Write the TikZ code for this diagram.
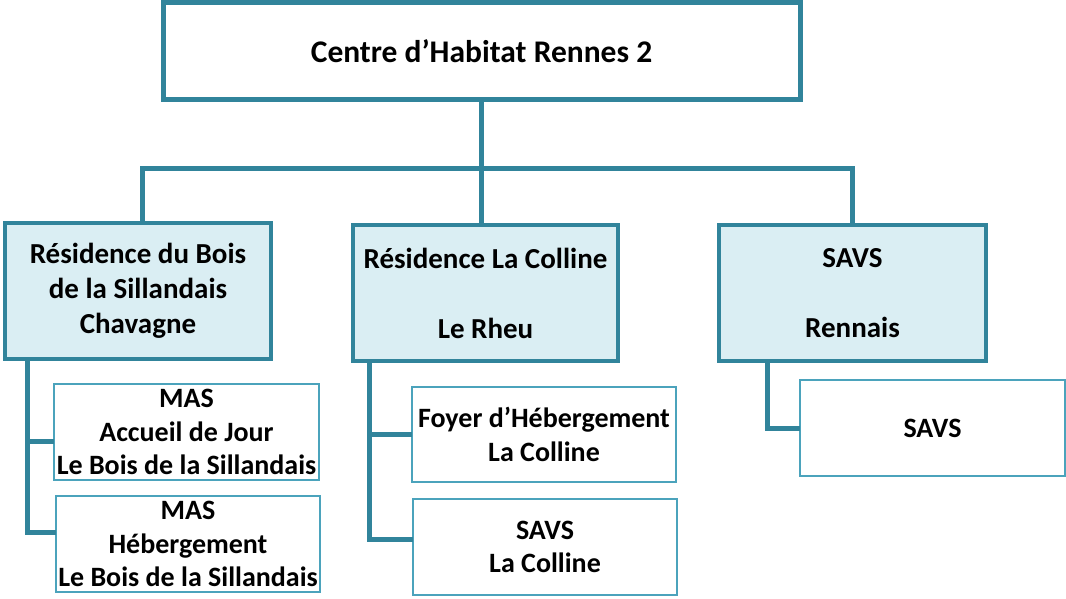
\documentclass[tikz,border=0pt]{standalone}
\usepackage{fontspec}
\setmainfont{Carlito}
\usetikzlibrary{calc}
\definecolor{teal}{HTML}{31849B}
\definecolor{lightfill}{HTML}{DAEEF3}
\definecolor{thinline}{HTML}{4BA3BC}
\begin{document}
\begin{tikzpicture}[x=1pt,y=-1pt,
  base/.style={rectangle,inner sep=0pt,outer sep=0pt,align=center},
  topbox/.style={base,draw=teal,line width=5pt,fill=white,font=\fontsize{31.5}{36}\selectfont\bfseries},
  midbox/.style={base,draw=teal,line width=4.5pt,fill=lightfill,font=\fontsize{29}{35}\selectfont\bfseries},
  leafbox/.style={base,draw=thinline,line width=1.2pt,fill=white,font=\fontsize{28}{33.5}\selectfont\bfseries},
  conn/.style={draw=teal,line width=5pt}]
\useasboundingbox (0,0) rectangle (1066,599);
\fill[white] (0,0) rectangle (1066,599);
% top
\node[topbox,minimum width=637pt,minimum height=97pt] (top) at (481.5,51.5) {Centre d’Habitat Rennes 2};
% level 2
\node[midbox,minimum width=266pt,minimum height=136pt] (A) at (138,291) {Résidence du Bois\\de la Sillandais\\Chavagne};
\node[midbox,minimum width=265pt,minimum height=136pt] (B) at (485.5,293) {Résidence La Colline\\[35pt]Le Rheu};
\node[midbox,minimum width=267pt,minimum height=136pt] (C) at (852.5,293) {SAVS\\[35pt]Rennais};
% level 3
\node[leafbox,minimum width=265pt,minimum height=96pt] (A1) at (186.5,432) {MAS\\Accueil de Jour\\Le Bois de la Sillandais};
\node[leafbox,minimum width=264pt,minimum height=96pt] (A2) at (188,544) {MAS\\Hébergement\\Le Bois de la Sillandais};
\node[leafbox,minimum width=264pt,minimum height=95pt] (B1) at (544,434.5) {Foyer d’Hébergement\\La Colline};
\node[leafbox,minimum width=264pt,minimum height=96pt] (B2) at (545,547) {SAVS\\La Colline};
\node[leafbox,minimum width=265pt,minimum height=96pt] (C1) at (932.5,428) {SAVS};
% connectors
\draw[conn] (top.south) -- (top.south |- B.north);
\draw[conn] ($(A.north)+(4,0)$) -- ++(0,-54) -| (C.north);
\coordinate (ax) at ($(A.south west)+(22,0)$);
\coordinate (bx) at ($(B.south west)+(16,0)$);
\coordinate (cx) at ($(C.south west)+(48,0)$);
\draw[conn] (ax) |- ($(A2.west)+(0,-12)$);
\draw[conn] (ax |- A1.west) ++(0,9) -- ($(A1.west)+(0,9)$);
\draw[conn] (bx) |- ($(B2.west)+(0,-8)$);
\draw[conn] (bx |- B1.west) -- (B1.west);
\draw[conn] (cx) |- (C1.west);
\end{tikzpicture}
\end{document}
